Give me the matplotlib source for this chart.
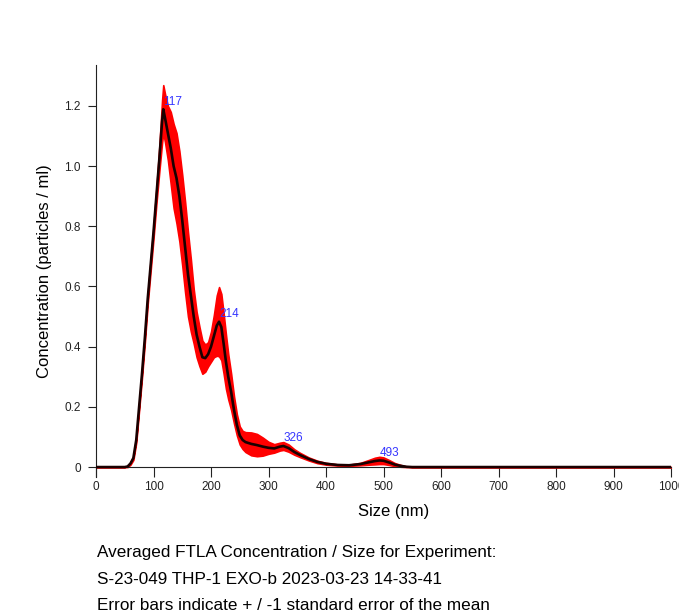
import numpy as np
import matplotlib
matplotlib.use("Agg")
import matplotlib.pyplot as plt

plt.rcParams['font.family'] = ['Liberation Sans', 'DejaVu Sans']

# size bins (nm)
sizes = [0, 50, 55, 60, 65, 70, 75, 80, 85, 90, 95, 100, 105, 110, 115, 117,
         120, 125, 130, 135, 140, 145, 150, 155, 160, 165, 170, 175, 180, 185,
         190, 195, 200, 205, 210, 214, 218, 222, 226, 230, 235, 240, 245, 250,
         255, 260, 270, 280, 290, 300, 310, 320, 326, 335, 345, 355, 370, 385,
         400, 420, 440, 460, 475, 485, 493, 500, 510, 520, 530, 540, 550, 600, 1000]

# mean concentration
conc = [0, 0, 0.002, 0.012, 0.03, 0.09, 0.2, 0.31, 0.43, 0.56, 0.67, 0.78, 0.9,
        1.02, 1.15, 1.189, 1.16, 1.11, 1.06, 1.0, 0.96, 0.90, 0.82, 0.73, 0.64,
        0.57, 0.50, 0.44, 0.40, 0.365, 0.362, 0.375, 0.40, 0.435, 0.47, 0.483,
        0.465, 0.41, 0.35, 0.30, 0.25, 0.19, 0.14, 0.105, 0.09, 0.083, 0.077,
        0.073, 0.068, 0.064, 0.062, 0.068, 0.07, 0.063, 0.05, 0.04, 0.027, 0.017,
        0.011, 0.007, 0.006, 0.01, 0.016, 0.02, 0.022, 0.021, 0.015, 0.008,
        0.004, 0.001, 0, 0, 0]

# standard error of the mean
sem = [0, 0, 0.002, 0.004, 0.006, 0.008, 0.01, 0.012, 0.014, 0.016, 0.018, 0.02,
       0.025, 0.04, 0.07, 0.08, 0.08, 0.09, 0.12, 0.14, 0.15, 0.15, 0.15, 0.15,
       0.14, 0.12, 0.09, 0.075, 0.065, 0.055, 0.045, 0.04, 0.05, 0.07, 0.1,
       0.115, 0.11, 0.1, 0.09, 0.075, 0.06, 0.045, 0.035, 0.03, 0.03, 0.033,
       0.038, 0.037, 0.03, 0.02, 0.014, 0.013, 0.013, 0.012, 0.009, 0.007,
       0.005, 0.004, 0.003, 0.002, 0.002, 0.004, 0.008, 0.011, 0.012, 0.011,
       0.008, 0.005, 0.003, 0.001, 0, 0, 0]

peaks = [117, 214, 326, 493]

xticks = [0, 100, 200, 300, 400, 500, 600, 700, 800, 900, 1000]
yticks = [0, 0.2, 0.4, 0.6, 0.8, 1.0, 1.2]
ytick_labels = ["0", "0.2", "0.4", "0.6", "0.8", "1.0", "1.2"]

caption = [
    "Averaged FTLA Concentration / Size for Experiment:",
    "S-23-049 THP-1 EXO-b 2023-03-23 14-33-41",
    "Error bars indicate + / -1 standard error of the mean",
]

x = np.array(sizes, dtype=float)
m = np.array(conc)
e = np.array(sem)

fig = plt.figure(figsize=(6.79, 6.12), dpi=100)
ax = fig.add_axes([96 / 679, 1 - 477 / 612, 575 / 679, 412 / 612])

ax.fill_between(x, m - e, m + e, color="red", linewidth=1.2, edgecolor="red", zorder=2)
ax.plot(x, m, color="#1a0000", linewidth=1.9, zorder=3)

for p in peaks:
    i = sizes.index(p)
    ax.annotate(str(p), (p, conc[i]), xytext=(0, 5.5), textcoords="offset points",
                ha="left", va="center", color="#3535ff", fontsize=8.5, zorder=4)

ax.set_xlim(0, 1000)
ax.set_ylim(-0.033, 1.336)
ax.spines["top"].set_visible(False)
ax.spines["right"].set_visible(False)
ax.spines["bottom"].set_position(("data", 0))
ax.spines["left"].set_color("#222222")
ax.spines["bottom"].set_color("#222222")

ax.set_xticks(xticks)
ax.set_yticks(yticks)
ax.set_yticklabels(ytick_labels)
ax.tick_params(axis="x", direction="out", length=7, width=0.8, pad=3,
               labelsize=8.5, colors="#222222")
ax.tick_params(axis="y", direction="out", length=6, width=0.8, pad=5,
               labelsize=8.5, colors="#222222")

ax.set_xlabel("Size (nm)", fontsize=12)
ax.xaxis.set_label_coords(0.518, -0.066)
ax.set_ylabel("Concentration (particles / ml)", fontsize=12)
ax.yaxis.set_label_coords(-0.077, 0.5)

ys = [553, 580, 606]
for txt, yy in zip(caption, ys):
    fig.text(97 / 679, 1 - yy / 612, txt, fontsize=12.3, va="center", ha="left")

fig.savefig("out.png", dpi=100)
